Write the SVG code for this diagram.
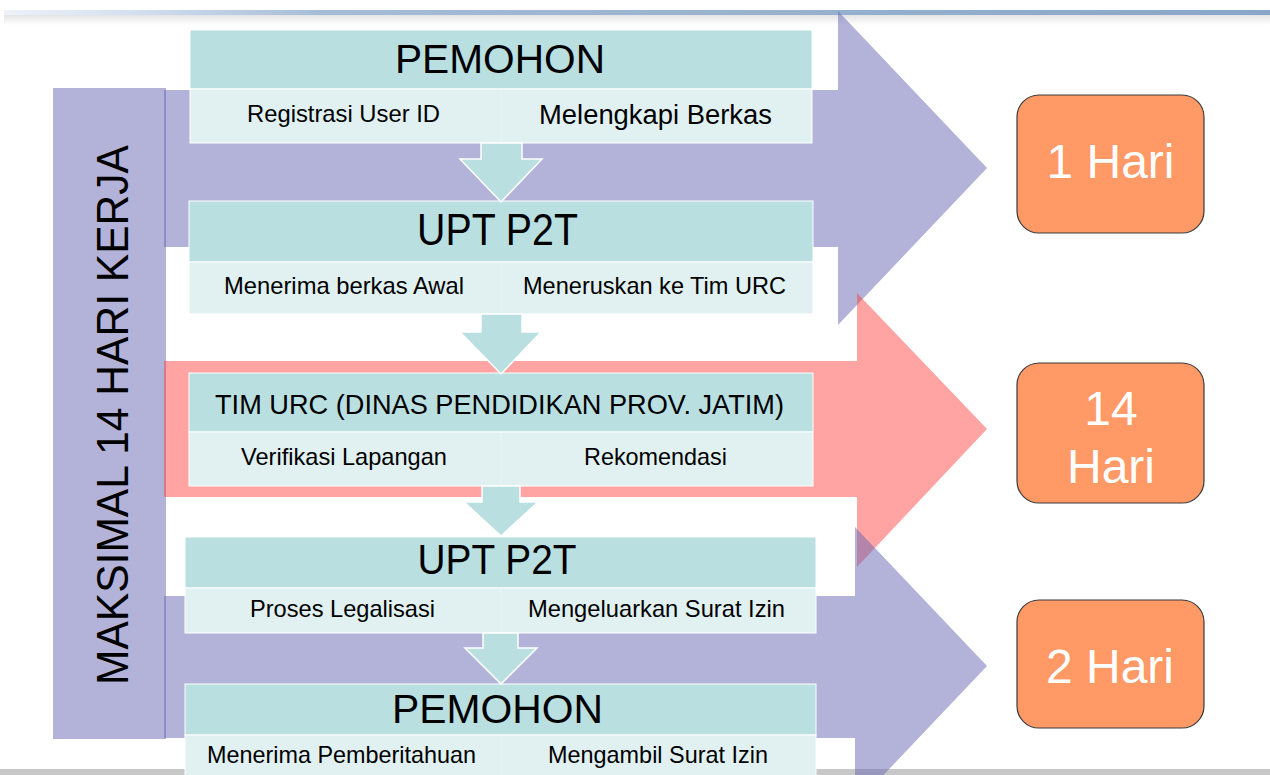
<svg xmlns="http://www.w3.org/2000/svg" width="1270" height="775" viewBox="0 0 1270 775">
<style>
  text { font-family: "Liberation Sans", Arial, sans-serif; fill: #000; }
  .arrowP { fill: #6767b3; fill-opacity: 0.5; }
  .arrowR { fill: #ff3333; fill-opacity: 0.45; }
  .hdr { fill: #b9dfe1; stroke: #ffffff; stroke-width: 1; }
  .sub { fill: #e1f1f1; stroke: #ffffff; stroke-width: 1; }
  .div { stroke: #ffffff; stroke-width: 1; stroke-opacity: 0.35; }
  .down { fill: #b9dfe1; stroke: #ffffff; stroke-width: 1.5; stroke-linejoin: miter; }
  .title { text-anchor: middle; }
  .st { text-anchor: middle; font-size: 24px; }
  .day { fill: #ff9966; stroke: #3a3a3a; stroke-width: 1.2; }
  .dayt { fill: #ffffff; text-anchor: middle; font-size: 48px; }
</style>
<defs>
  <linearGradient id="topbar" x1="0" y1="0" x2="1" y2="0">
    <stop offset="0" stop-color="#eef2f8"/>
    <stop offset="0.1" stop-color="#d3e0f0"/>
    <stop offset="0.25" stop-color="#a6bcd6"/>
    <stop offset="1" stop-color="#88a6c8"/>
  </linearGradient>
  <linearGradient id="topshade" x1="0" y1="0" x2="0" y2="1">
    <stop offset="0" stop-color="#e4e4e6"/>
    <stop offset="1" stop-color="#ffffff"/>
  </linearGradient>
</defs>
<rect width="1270" height="775" fill="#ffffff"/>
<!-- header decoration -->
<rect x="4" y="10" width="1266" height="5" fill="url(#topbar)"/>
<rect x="4" y="15" width="1266" height="10" fill="url(#topshade)"/>
<!-- bottom line -->
<rect x="0" y="769" width="1270" height="6" fill="#c8c8c8"/>

<!-- left vertical band -->
<g id="band">
  <rect x="53" y="88" width="113" height="651" fill="#b3b3d9"/>
  <text transform="translate(128,415) rotate(-90)" text-anchor="middle" font-size="44" textLength="540" lengthAdjust="spacingAndGlyphs">MAKSIMAL 14 HARI KERJA</text>
</g>

<!-- big arrows -->
<g id="connectors">
  <polygon id="arrow-1hari" class="arrowP" points="164,90 838,90 838,11 987,168 838,325 838,247 164,247"/>
  <polygon id="arrow-14hari" class="arrowR" points="164,361 857,361 857,293 987,429 857,567 857,497 164,497"/>
  <polygon id="arrow-2hari" class="arrowP" points="164,596 855,596 855,527 987,666 855,805 855,738 164,738"/>
</g>

<!-- node boxes -->
<g id="node-pemohon1">
  <rect class="hdr" x="190" y="30" width="622" height="59"/>
  <rect class="sub" x="190" y="89" width="622" height="54"/>
  <line class="div" x1="501" y1="90" x2="501" y2="142"/>
  <text class="title" x="500" y="73" font-size="40" textLength="210" lengthAdjust="spacingAndGlyphs">PEMOHON</text>
  <text class="st" x="343.5" y="122" textLength="193" lengthAdjust="spacingAndGlyphs">Registrasi User ID</text>
  <text class="st" x="655.5" y="124" style="font-size:27px" textLength="233" lengthAdjust="spacingAndGlyphs">Melengkapi Berkas</text>
</g>

<g id="node-upt1">
  <rect class="hdr" x="189" y="201" width="624" height="61"/>
  <rect class="sub" x="189" y="262" width="624" height="52"/>
  <line class="div" x1="501" y1="263" x2="501" y2="313"/>
  <text class="title" x="497.5" y="245" font-size="44" textLength="161" lengthAdjust="spacingAndGlyphs">UPT P2T</text>
  <text class="st" x="344" y="294" textLength="240" lengthAdjust="spacingAndGlyphs">Menerima berkas Awal</text>
  <text class="st" x="654.5" y="294" textLength="263" lengthAdjust="spacingAndGlyphs">Meneruskan ke Tim URC</text>
</g>

<g id="node-timurc">
  <rect class="hdr" x="189" y="373" width="624" height="59"/>
  <rect class="sub" x="189" y="432" width="624" height="54"/>
  <line class="div" x1="501" y1="433" x2="501" y2="485"/>
  <text class="title" x="499.5" y="414" font-size="28" textLength="569" lengthAdjust="spacingAndGlyphs">TIM URC (DINAS PENDIDIKAN PROV. JATIM)</text>
  <text class="st" x="344" y="465" textLength="206" lengthAdjust="spacingAndGlyphs">Verifikasi Lapangan</text>
  <text class="st" x="655.5" y="465" textLength="143" lengthAdjust="spacingAndGlyphs">Rekomendasi</text>
</g>

<g id="node-upt2">
  <rect class="hdr" x="185" y="537" width="631" height="51"/>
  <rect class="sub" x="185" y="588" width="631" height="45"/>
  <line class="div" x1="501" y1="589" x2="501" y2="632"/>
  <text class="title" x="497" y="574" font-size="43" textLength="159" lengthAdjust="spacingAndGlyphs">UPT P2T</text>
  <text class="st" x="342.5" y="617" textLength="185" lengthAdjust="spacingAndGlyphs">Proses Legalisasi</text>
  <text class="st" x="656.5" y="617" textLength="257" lengthAdjust="spacingAndGlyphs">Mengeluarkan Surat Izin</text>
</g>

<g id="node-pemohon2">
  <rect class="hdr" x="185" y="684" width="631" height="51"/>
  <rect class="sub" x="185" y="735" width="631" height="50"/>
  <line class="div" x1="501" y1="736" x2="501" y2="775"/>
  <text class="title" x="497.5" y="723" font-size="40" textLength="211" lengthAdjust="spacingAndGlyphs">PEMOHON</text>
  <text class="st" x="341.5" y="763" textLength="269" lengthAdjust="spacingAndGlyphs">Menerima Pemberitahuan</text>
  <text class="st" x="658" y="763" textLength="220" lengthAdjust="spacingAndGlyphs">Mengambil Surat Izin</text>
</g>

<!-- down arrows between nodes -->
<g id="flow-arrows">
  <polygon class="down" points="481,143 522,143 522,159 542,159 501,202 460,159 481,159"/>
  <polygon class="down" points="481,314 522,314 522,332 541,332 501,374 460,332 481,332"/>
  <polygon class="down" points="482,486 520,486 520,502 538,502 501,536 464,502 482,502"/>
  <polygon class="down" points="483,633 518,633 518,648 537,648 501,684 465,648 483,648"/>
</g>

<!-- duration boxes -->
<g id="node-1hari">
  <rect class="day" x="1017" y="95" width="187" height="138" rx="22"/>
  <text class="dayt" x="1110.5" y="178">1 Hari</text>
</g>
<g id="node-14hari">
  <rect class="day" x="1017" y="363" width="187" height="140" rx="22"/>
  <text class="dayt" x="1111" y="425">14</text>
  <text class="dayt" x="1111" y="483">Hari</text>
</g>
<g id="node-2hari">
  <rect class="day" x="1017" y="600" width="187" height="128" rx="22"/>
  <text class="dayt" x="1110" y="683">2 Hari</text>
</g>
</svg>
